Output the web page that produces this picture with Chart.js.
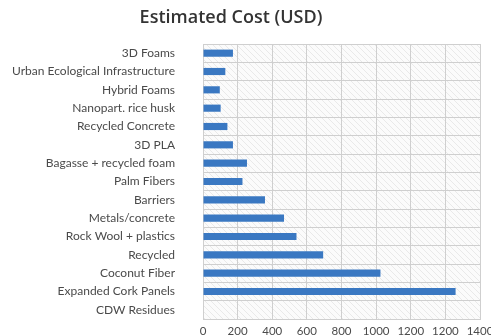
<!DOCTYPE html>
<html>
<head>
<meta charset="utf-8">
<script src="https://cdn.jsdelivr.net/npm/chart.js@4/dist/chart.umd.min.js"></script>
<style>
  html, body { margin: 0; padding: 0; background: #ffffff; overflow: hidden; width: 491px; height: 336px; }
  canvas { display: block; }
</style>
</head>
<body>
<canvas id="c" width="520" height="336" style="width:520px;height:336px"></canvas>
<script>
const titleText = 'Estimated Cost (USD)';
const categories = [
  '3D Foams', 'Urban Ecological Infrastructure', 'Hybrid Foams', 'Nanopart. rice husk',
  'Recycled Concrete', '3D PLA', 'Bagasse + recycled foam', 'Palm Fibers', 'Barriers',
  'Metals/concrete', 'Rock Wool + plastics', 'Recycled', 'Coconut Fiber',
  'Expanded Cork Panels', 'CDW Residues'
];
const costs = [173, 129, 97, 102, 141, 173, 254, 228, 358, 468, 540, 694, 1025, 1459, 0];
const xTickLabels = ['0', '200', '400', '600', '800', '1000', '1200', '1200', '1400'];

function makeHatch() {
  const p = document.createElement('canvas');
  p.width = 6; p.height = 6;
  const g = p.getContext('2d');
  g.fillStyle = '#fbfbfb';
  g.fillRect(0, 0, 6, 6);
  g.strokeStyle = 'rgba(0,0,0,0.07)';
  g.lineWidth = 1;
  g.beginPath();
  g.moveTo(-1, -1); g.lineTo(7, 7);
  g.stroke();
  return p;
}

const bgPlugin = {
  id: 'bgHatch',
  beforeDraw(chart) {
    const { ctx, chartArea: a } = chart;
    ctx.save();
    ctx.fillStyle = ctx.createPattern(makeHatch(), 'repeat');
    ctx.fillRect(a.left, a.top, a.right - a.left, a.bottom - a.top);
    ctx.restore();
  }
};

const titlePlugin = {
  id: 'customTitle',
  afterDraw(chart) {
    const ctx = chart.ctx;
    ctx.save();
    ctx.font = '600 18px "Open Sans", sans-serif';
    ctx.fillStyle = '#333333';
    ctx.textAlign = 'center';
    ctx.textBaseline = 'middle';
    ctx.fillText(titleText, 231, 18);
    ctx.restore();
  }
};

new Chart(document.getElementById('c'), {
  type: 'bar',
  data: {
    labels: categories,
    datasets: [{
      data: costs,
      backgroundColor: '#3a78c2',
      borderWidth: 0,
      categoryPercentage: 1.0,
      barPercentage: 0.39
    }]
  },
  options: {
    indexAxis: 'y',
    responsive: false,
    animation: false,
    layout: { padding: { top: 44, right: 40, bottom: 0, left: 0 } },
    plugins: { legend: { display: false }, tooltip: { enabled: false }, title: { display: false } },
    scales: {
      x: {
        type: 'linear',
        min: 0,
        max: 1600,
        afterFit: (s) => { s.height = 17; },
        ticks: {
          stepSize: 200,
          autoSkip: false,
          maxRotation: 0,
          padding: 5,
          color: '#4a4a4a',
          font: { family: 'Lato', size: 11.5 },
          callback: (v, i) => xTickLabels[i]
        },
        grid: { color: '#cfcfcf', lineWidth: 1, drawTicks: false },
        border: { color: '#cfcfcf' }
      },
      y: {
        offset: true,
        afterFit: (s) => { s.width = 203; s.paddingTop = 0; s.paddingBottom = 0; },
        ticks: {
          padding: 28,
          color: '#4a4a4a',
          font: { family: 'Lato', size: 12 },
          autoSkip: false
        },
        grid: { color: '#cfcfcf', lineWidth: 1, drawTicks: false, offset: true },
        border: { color: '#cfcfcf' }
      }
    }
  },
  plugins: [bgPlugin, titlePlugin]
});
</script>
</body>
</html>
